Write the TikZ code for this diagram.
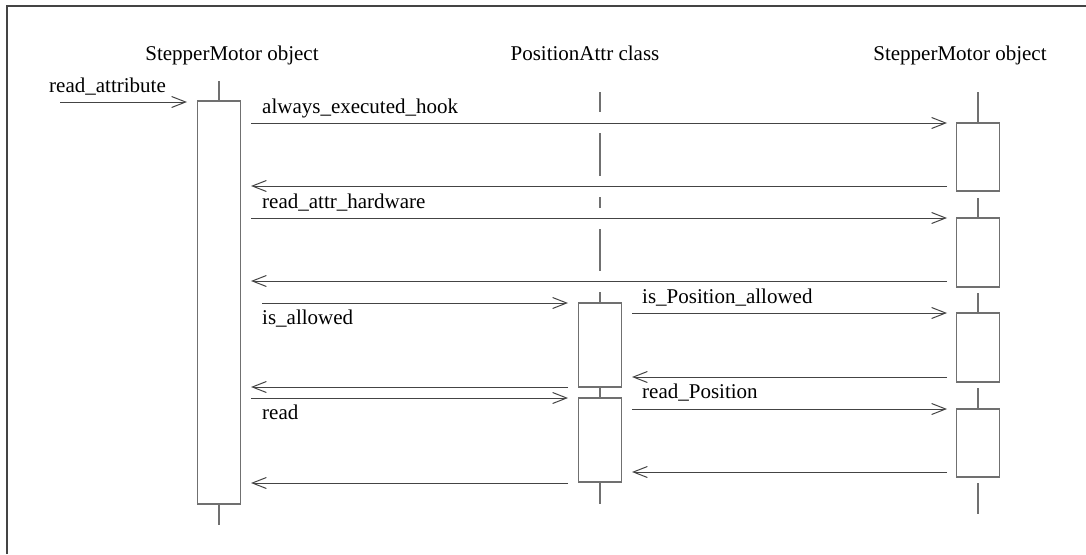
\documentclass[tikz,border=0pt]{standalone}
\usepackage{fontspec}
\setmainfont{Liberation Serif}
\usetikzlibrary{arrows.meta}
\definecolor{lifegray}{HTML}{707070}
\definecolor{arrgray}{HTML}{444444}
\tikzset{
  actbox/.style={draw=lifegray, line width=1.1pt, fill=white, inner sep=0pt, minimum width=43pt},
  life/.style={draw=lifegray, line width=1.1pt},
  msg/.style={draw=arrgray, line width=1pt, -{Straight Barb[length=14pt,width=11pt,line width=1pt]}},
  lbl/.style={font=\fontsize{21}{24}\selectfont, inner sep=0pt, anchor=base west, text=black},
  hdr/.style={font=\fontsize{21}{24}\selectfont, inner sep=0pt, anchor=base, text=black},
}
\begin{document}
\begin{tikzpicture}[x=1pt,y=-1pt]
\useasboundingbox (0,0) rectangle (1086,554);
\draw[line width=1.4pt, draw=arrgray] (7,554) -- (7,6) -- (1086,6);
% headers
\node[hdr] (h1) at (232,60) {StepperMotor object};
\node[hdr] (h2) at (585,60) {PositionAttr class};
\node[hdr] (h3) at (960,60) {StepperMotor object};
% left lifeline
\node[actbox, minimum height=403pt] (L) at (219,302.5) {};
\draw[life] (219,81) -- (L.north);
\draw[life] (L.south) -- (219,525);
% middle lifeline
\node[actbox, minimum height=84pt] (M1) at (600,345) {};
\node[actbox, minimum height=84pt] (M2) at (600,440) {};
\draw[life] (600,92) -- (600,112);
\draw[life] (600,133) -- (600,176);
\draw[life] (600,197) -- (600,208);
\draw[life] (600,229) -- (600,271);
\draw[life] (600,292) -- (M1.north);
\draw[life] (M1.south) -- (M2.north);
\draw[life] (M2.south) -- (600,504);
% right lifeline
\node[actbox, minimum height=68pt] (R1) at (978,157) {};
\node[actbox, minimum height=69pt] (R2) at (978,252.5) {};
\node[actbox, minimum height=69pt] (R3) at (978,347.5) {};
\node[actbox, minimum height=68pt] (R4) at (978,443) {};
\draw[life] (978,92) -- (R1.north);
\draw[life] (978,198) -- (R2.north);
\draw[life] (978,293) -- (R3.north);
\draw[life] (978,388) -- (R4.north);
\draw[life] (978,483) -- (978,514);
% message end points
\coordinate (s0) at (60,102);   \coordinate (e0) at (187,102);
\coordinate (a1) at (251,123);  \coordinate (b1) at (947,123);
\coordinate (a2) at (947,186);  \coordinate (b2) at (251,186);
\coordinate (a3) at (251,218);  \coordinate (b3) at (947,218);
\coordinate (a4) at (947,281);  \coordinate (b4) at (251,281);
\coordinate (a5) at (262,303);  \coordinate (b5) at (568,303);
\coordinate (a6) at (632,313);  \coordinate (b6) at (947,313);
\coordinate (a7) at (947,377);  \coordinate (b7) at (632,377);
\coordinate (a8) at (568,387);  \coordinate (b8) at (251,387);
\coordinate (a9) at (251,398);  \coordinate (b9) at (568,398);
\coordinate (a10) at (632,409); \coordinate (b10) at (947,409);
\coordinate (a11) at (947,472); \coordinate (b11) at (632,472);
\coordinate (a12) at (568,483); \coordinate (b12) at (251,483);
\draw[msg] (s0) -- (e0);
\draw[msg] (a1) -- (b1);
\draw[msg] (a2) -- (b2);
\draw[msg] (a3) -- (b3);
\draw[msg] (a4) -- (b4);
\draw[msg] (a5) -- (b5);
\draw[msg] (a6) -- (b6);
\draw[msg] (a7) -- (b7);
\draw[msg] (a8) -- (b8);
\draw[msg] (a9) -- (b9);
\draw[msg] (a10) -- (b10);
\draw[msg] (a11) -- (b11);
\draw[msg] (a12) -- (b12);
% labels
\node[lbl] (t0) at (49,92) {read\_attribute};
\node[lbl] (t1) at (262,113) {always\_executed\_hook};
\node[lbl] (t3) at (262,208) {read\_attr\_hardware};
\node[lbl] (t5) at (262,324) {is\_allowed};
\node[lbl] (t6) at (642,303) {is\_Position\_allowed};
\node[lbl] (t9) at (262,419) {read};
\node[lbl] (t10) at (642,398) {read\_Position};
\end{tikzpicture}
\end{document}
